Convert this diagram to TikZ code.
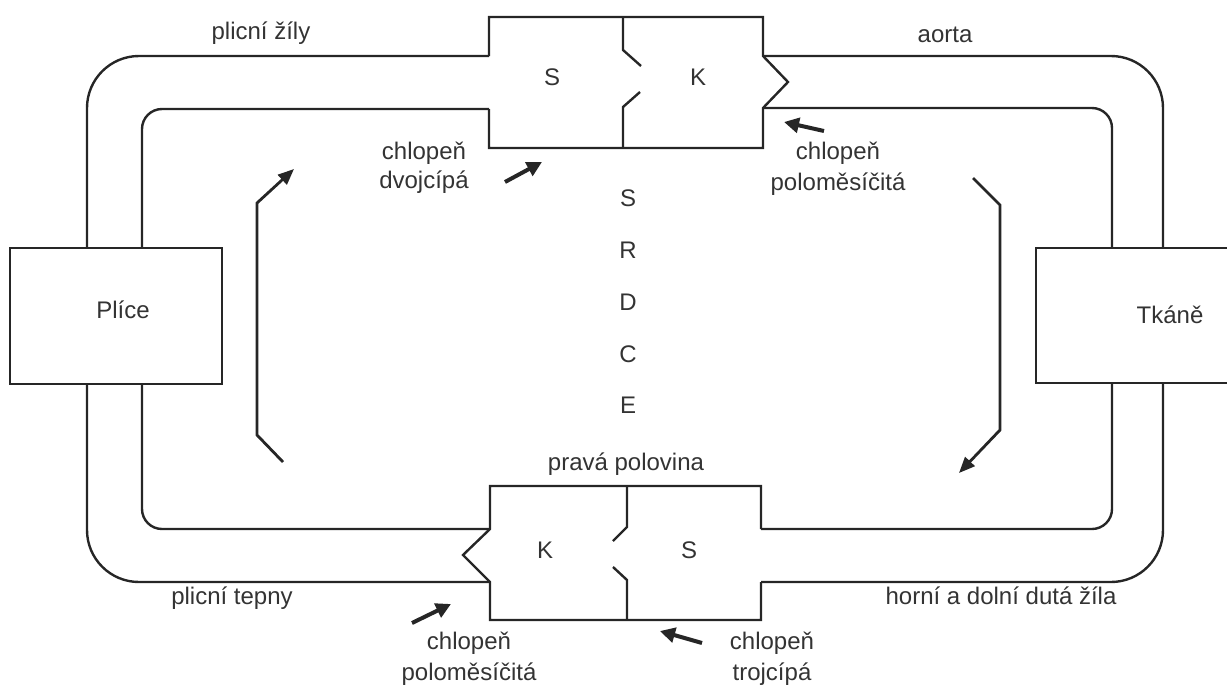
\documentclass[tikz,border=0pt]{standalone}
\usepackage{fontspec}
\setmainfont{Liberation Sans}
\usetikzlibrary{arrows.meta}
\definecolor{ink}{HTML}{262626}
\definecolor{txt}{HTML}{333333}
\begin{document}
\begin{tikzpicture}[x=1pt,y=-1pt, line width=2.4pt, draw=ink,
  lbl/.style={font=\fontsize{24}{29}\selectfont, text=txt, inner sep=0pt, anchor=base},
  organ/.style={draw=ink, fill=white, line width=2.4pt, inner sep=0pt},
  wall/.style={draw=ink, line width=2.4pt, line join=miter},
  outertube/.style={draw=ink, line width=2.4pt, rounded corners=52pt},
  innertube/.style={draw=ink, line width=2.4pt, rounded corners=20pt},
  flow/.style={draw=ink, line width=2.8pt, line join=miter, -{Triangle[length=16pt,width=13pt]}},
  valvearrow/.style={draw=ink, line width=4pt, -{Triangle[length=15pt,width=15pt]}}]
\useasboundingbox (0,0) rectangle (1227,686);

% organs
\node[organ, minimum width=212pt, minimum height=136pt] (plice) at (116,316) {};
\node[lbl] (plicetxt) at (123,318.5) {Plíce};
\node[organ, minimum width=210pt, minimum height=135pt, anchor=west] (tkane) at (1035,315.5) {};
\node[lbl] (tkanetxt) at (1170,323) {Tkáně};

% heart boxes as coordinates
\coordinate (tl1) at (489,56);  \coordinate (tl2) at (489,109);
\coordinate (tr1) at (763,56);  \coordinate (tr2) at (763,108);
\coordinate (bl1) at (490,529); \coordinate (bl2) at (490,582);
\coordinate (br1) at (761,529); \coordinate (br2) at (761,582);

% top heart (left half S, right half K)
\draw[wall] (tl1) -- (489,17) -- (763,17) -- (tr1) -- (788,82) -- (tr2) -- (763,148) -- (489,148) -- (tl2);
\draw[wall] (623,17) -- (623,50) -- (641,66);
\draw[wall] (640,92) -- (623,107) -- (623,148);
% bottom heart
\draw[wall] (br1) -- (761,486) -- (490,486) -- (bl1) -- (463,555) -- (bl2) -- (490,620) -- (761,620) -- (br2);
\draw[wall] (627,486) -- (627,527) -- (613,541);
\draw[wall] (613,567) -- (627,580) -- (627,620);

% vessels
\draw[outertube] (tl1) -- (87,56) -- (87,248);
\draw[innertube] (tl2) -- (142,109) -- (142,248);
\draw[outertube] (87,384) -- (87,582) -- (bl2);
\draw[innertube] (142,384) -- (142,529) -- (bl1);
\draw[outertube] (tr1) -- (1163,56) -- (1163,248);
\draw[innertube] (tr2) -- (1112,108) -- (1112,248);
\draw[outertube] (1163,383) -- (1163,582) -- (br2);
\draw[innertube] (1112,383) -- (1112,529) -- (br1);

% flow arrows
\draw[flow] (283,462) -- (257,435) -- (257,203) -- (294,169);
\draw[flow] (973,178) -- (1000,205) -- (1000,430) -- (959,473);

% valve arrows
\draw[valvearrow] (505,182) -- (542,162);
\draw[valvearrow] (824,131) -- (784,122);
\draw[valvearrow] (412,623) -- (451,604);
\draw[valvearrow] (702,643) -- (660,631);

% labels
\node[lbl] (l1) at (261,39) {plicní žíly};
\node[lbl] (l2) at (945,42) {aorta};
\node[lbl] (sT) at (552,85) {S};
\node[lbl] (kT) at (698,85) {K};
\node[lbl] (kB) at (545,558) {K};
\node[lbl] (sB) at (689,558) {S};
\node[lbl] (c1a) at (424,159.5) {chlopeň};
\node[lbl] (c1b) at (424,188) {dvojcípá};
\node[lbl] (c2a) at (838,159) {chlopeň};
\node[lbl] (c2b) at (838,190) {poloměsíčitá};
\node[lbl] (c3a) at (469,649) {chlopeň};
\node[lbl] (c3b) at (469,680) {poloměsíčitá};
\node[lbl] (c4a) at (772,649) {chlopeň};
\node[lbl] (c4b) at (772,680) {trojcípá};
\node[lbl] (d1) at (628,206.5) {S};
\node[lbl] (d2) at (628,258.5) {R};
\node[lbl] (d3) at (628,310.5) {D};
\node[lbl] (d4) at (628,362.5) {C};
\node[lbl] (d5) at (628,413.5) {E};
\node[lbl] (pp) at (626,470) {pravá polovina};
\node[lbl] (pt) at (232,604) {plicní tepny};
\node[lbl] (hd) at (1001,604.5) {horní a dolní dutá žíla};
\end{tikzpicture}
\end{document}
